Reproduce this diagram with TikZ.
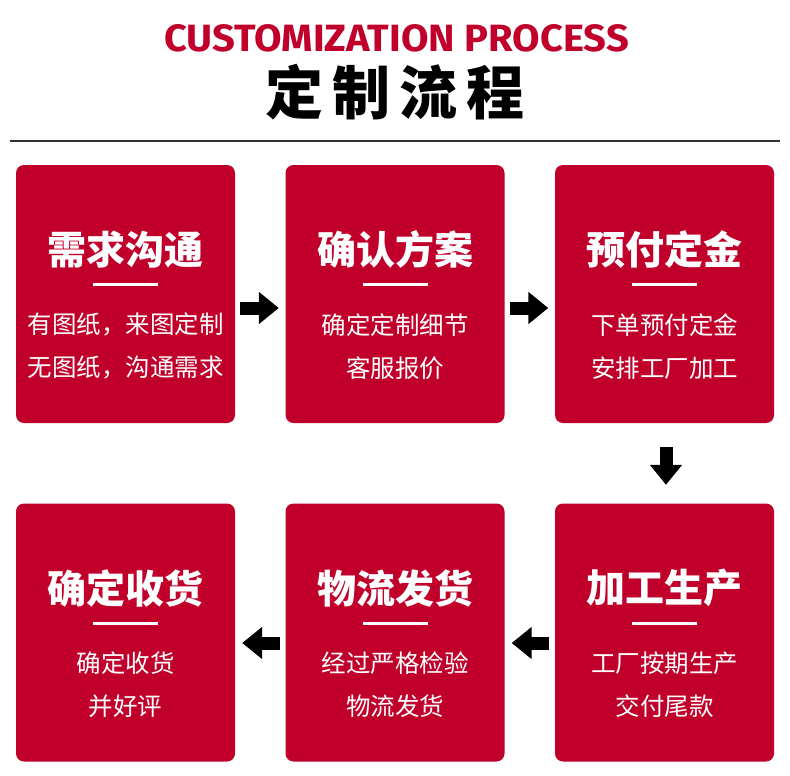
\documentclass[tikz,border=0pt]{standalone}
\usepackage{fontspec}
\newfontfamily\cjk{Noto Sans CJK SC}
\newfontfamily\fira{Fira Sans}
\usetikzlibrary{calc,arrows.meta}
\definecolor{crim}{RGB}{192,0,42}
\begin{document}
\begin{tikzpicture}[x=1pt,y=-1pt,
  box/.style={fill=crim, rounded corners=8pt, minimum width=219pt, minimum height=258pt, inner sep=0pt, draw=none},
  ttl/.style={text=white, font=\cjk\bfseries\fontsize{39}{41}\selectfont, inner sep=0pt},
  sub/.style={text=white, font=\cjk\fontsize{24.5}{27}\selectfont, inner sep=0pt},
  uline/.style={white, line width=3pt},
  blk/.style={black, line width=13pt, -{Triangle[length=20pt, width=31pt]}}]
\useasboundingbox (0,0) rectangle (790,776);
\fill[white] (0,0) rectangle (790,776);
% header
\node[text=crim, font=\fira\bfseries\fontsize{38}{40}\selectfont, inner sep=0pt] (en) at (396.5,38) {\scalebox{1.05}[1]{CUSTOMIZATION PROCESS}};
\node[text=black, font=\cjk\bfseries\fontsize{58}{60}\selectfont, inner sep=0pt] (zh) at (395,92) {定\hspace{9pt}制\hspace{9pt}流\hspace{9pt}程};
\coordinate (hl) at (10,141);
\coordinate (hr) at (780,141);
\draw[black!80, line width=2pt] (hl) -- (hr);
% boxes
\foreach \n/\x/\y/\t/\a/\b in {
  b1/125.5/294/需求沟通/有图纸，来图定制/无图纸，沟通需求,
  b2/395/294/确认方案/确定定制细节/客服报价,
  b3/664.5/294/预付定金/下单预付定金/安排工厂加工,
  b4/664.5/632.5/加工生产/工厂按期生产/交付尾款,
  b5/395/632.5/物流发货/经过严格检验/物流发货,
  b6/125.5/632.5/确定收货/确定收货/并好评}{
  \node[box] (\n) at (\x,\y) {};
  \node[ttl] (\n t) at ($(\n.north)+(0,85)$) {\t};
  \coordinate (\n ul) at ($(\n.north)+(-32.5,120)$);
  \coordinate (\n ur) at ($(\n.north)+(32.5,120)$);
  \draw[uline] (\n ul) -- (\n ur);
  \node[sub] (\n a) at ($(\n.north)+(0,160)$) {\a};
  \node[sub] (\n b) at ($(\n.north)+(0,203)$) {\b};
}
% arrows
\coordinate (a12s) at ($(b1.east)+(5,14)$);
\coordinate (a12e) at ($(b2.west)+(-6.5,14)$);
\coordinate (a23s) at ($(b2.east)+(5,14)$);
\coordinate (a23e) at ($(b3.west)+(-6.5,14)$);
\coordinate (a34s) at ($(b3.south)+(1.5,24)$);
\coordinate (a34e) at ($(b4.north)+(1.5,-18.5)$);
\coordinate (a45s) at ($(b4.west)+(-5.5,10.5)$);
\coordinate (a45e) at ($(b5.east)+(7,10.5)$);
\coordinate (a56s) at ($(b5.west)+(-5.5,10.5)$);
\coordinate (a56e) at ($(b6.east)+(7,10.5)$);
\draw[blk] (a12s) -- (a12e);
\draw[blk] (a23s) -- (a23e);
\draw[blk] (a34s) -- (a34e);
\draw[blk] (a45s) -- (a45e);
\draw[blk] (a56s) -- (a56e);
\end{tikzpicture}
\end{document}
